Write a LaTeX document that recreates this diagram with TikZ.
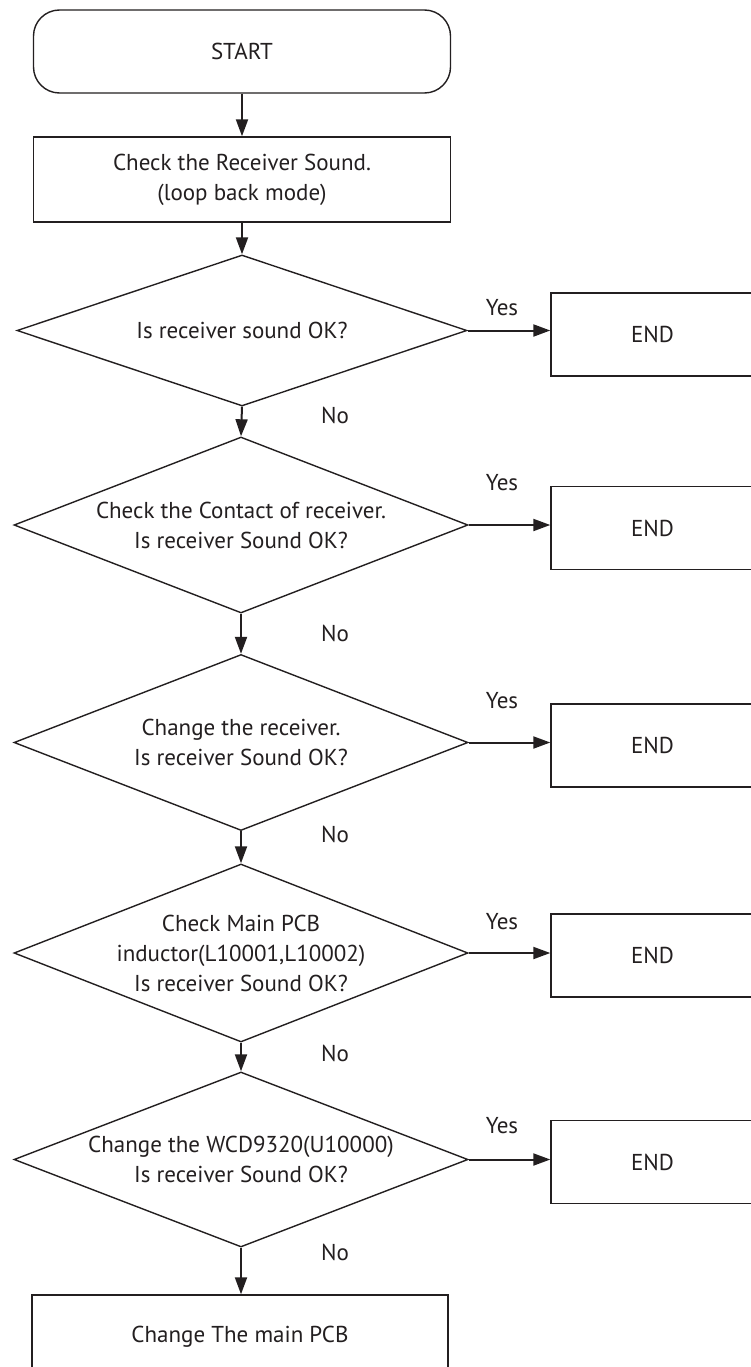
\documentclass[tikz,border=0pt]{standalone}
\usepackage{fontspec}
\setmainfont{PT Sans}
\usetikzlibrary{shapes.geometric,arrows.meta}
\definecolor{ink}{HTML}{231F20}
\begin{document}
\begin{tikzpicture}[x=1pt,y=-1pt,
  every node/.style={font=\fontsize{23}{30}\selectfont, text=ink},
  box/.style={draw=ink, line width=1.4pt, rectangle, align=center, inner sep=0pt},
  dec/.style={draw=ink, line width=1.4pt, diamond, aspect=2.57, inner sep=0pt, align=center, minimum width=454pt, minimum height=176pt},
  endbox/.style={box, minimum width=203pt, minimum height=83pt},
  conn/.style={draw=ink, line width=2pt, -{Triangle[length=17pt,width=12pt]}},
  lbl/.style={inner sep=0pt}]
\useasboundingbox (0,0) rectangle (751,1367);
\fill[white] (0,0) rectangle (751,1367);

\node[box, rounded corners=26pt, minimum width=417pt, minimum height=83pt] (start) at (242,51.5) {START};
\node[box, minimum width=417pt, minimum height=85pt] (proc) at (242,179.5) {Check the Receiver Sound.\\(loop back mode)};

\node[dec, minimum width=450pt, minimum height=151pt] (d1) at (242,330.5) {Is receiver sound OK?};
\node[dec] (d2) at (241,525) {Check the Contact of receiver.\\Is receiver Sound OK?};
\node[dec] (d3) at (241,742.5) {Change the receiver.\\Is receiver Sound OK?};
\node[dec, minimum height=178pt] (d4) at (241,953) {Check Main PCB\\inductor(L10001,L10002)\\Is receiver Sound OK?};
\node[dec, minimum height=175pt] (d5) at (241,1159.5) {Change the WCD9320(U10000)\\Is receiver Sound OK?};

\node[endbox] (e1) at (652.5,334.5) {END};
\node[endbox] (e2) at (652.5,528) {END};
\node[endbox] (e3) at (652.5,745.5) {END};
\node[endbox] (e4) at (652.5,955.5) {END};
\node[endbox] (e5) at (652.5,1162) {END};

\node[box, minimum width=416pt, minimum height=84pt] (final) at (240,1337) {Change The main PCB};

\node[lbl] (y1) at (502,308) {Yes};
\node[lbl] (y2) at (502,483) {Yes};
\node[lbl] (y3) at (502,701) {Yes};
\node[lbl] (y4) at (502,922) {Yes};
\node[lbl] (y5) at (502,1126) {Yes};

\node[lbl] (n1) at (335,415) {No};
\node[lbl] (n2) at (335,633) {No};
\node[lbl] (n3) at (335,834) {No};
\node[lbl] (n4) at (335,1053) {No};
\node[lbl] (n5) at (335,1252) {No};

\draw[conn] (start.south) -- (proc.north);
\draw[conn] (proc.south) -- (d1.north);
\draw[conn] (d1.south) -- (d2.south |- d2.north);
\draw[conn] (d2.south) -- (d3.north);
\draw[conn] (d3.south) -- (d4.north);
\draw[conn] (d4.south) -- (d5.north);
\draw[conn] (d5.south) -- (d5.south |- final.north);

\draw[conn] (d1.east) -- (d1.east -| e1.west);
\draw[conn] (d2.east) -- (d2.east -| e2.west);
\draw[conn] (d3.east) -- (d3.east -| e3.west);
\draw[conn] (d4.east) -- (d4.east -| e4.west);
\draw[conn] (d5.east) -- (d5.east -| e5.west);
\end{tikzpicture}
\end{document}
